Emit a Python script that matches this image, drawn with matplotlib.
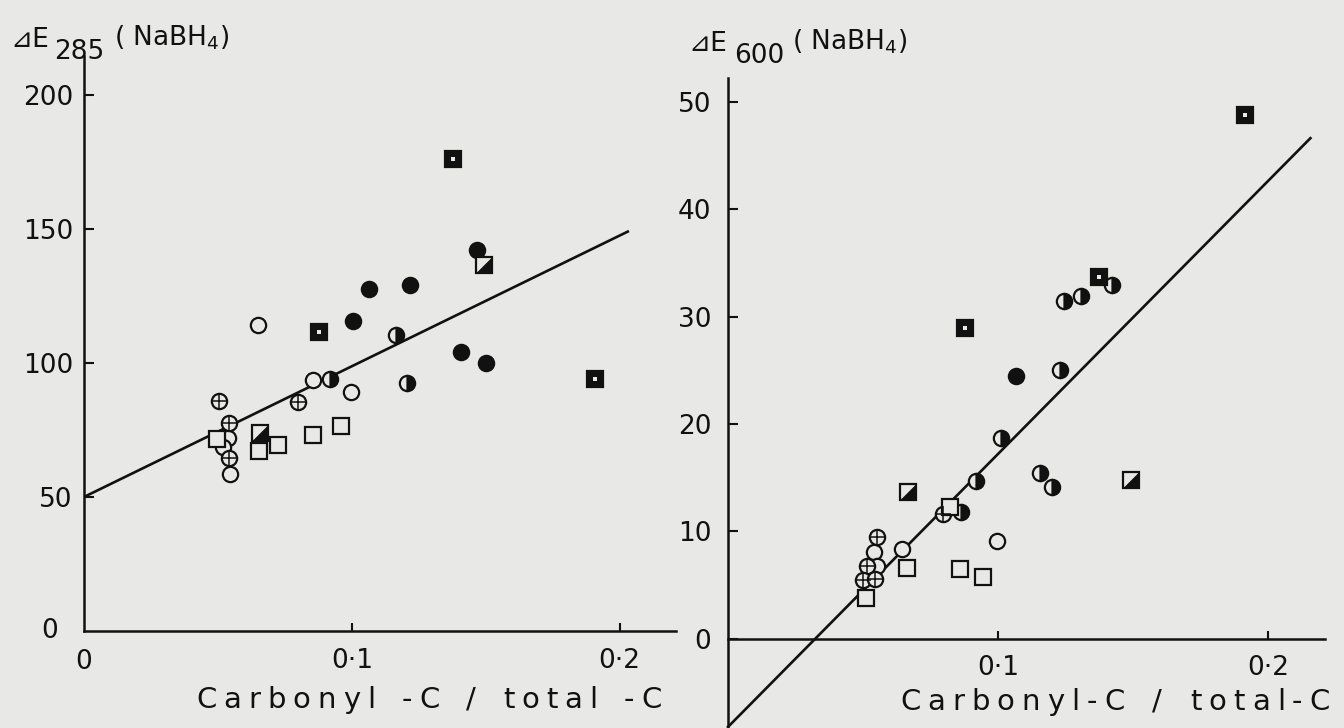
import matplotlib
matplotlib.use("Agg")
import matplotlib.pyplot as plt
from matplotlib.font_manager import FontProperties
from matplotlib.textpath import TextToPath
import numpy as np

# ---------------- data: left panel (ΔE285) ----------------
L_open_c_x = [0.0996, 0.0854, 0.0649, 0.0537, 0.0519, 0.0545]
L_open_c_y = [89.0, 93.6, 114.0, 71.9, 68.5, 58.5]
L_cross_x = [0.0504, 0.0541, 0.0541, 0.0799]
L_cross_y = [85.7, 77.5, 64.4, 85.3]
L_half_c_x = [0.1164, 0.1205, 0.0918]
L_half_c_y = [110.6, 92.4, 94.0]
L_fill_c_x = [0.1466, 0.1063, 0.1216, 0.1004, 0.1407, 0.1500]
L_fill_c_y = [142.3, 127.4, 129.2, 115.8, 103.9, 99.8]
L_open_s_x = [0.0496, 0.0653, 0.0724, 0.0854, 0.0959]
L_open_s_y = [71.5, 67.0, 69.3, 73.0, 76.4]
L_half_s_x = [0.1493, 0.0657]
L_half_s_y = [136.7, 73.7]
L_box_s_x = [0.1377, 0.0877, 0.1907]
L_box_s_y = [176.2, 111.7, 93.9]
L_line_x = [0.0, 0.203]
L_line_y = [50.0, 149.0]
L_yticks = [50, 100, 150, 200]
L_xticks = [0.1, 0.2]
L_xticklabels = ["0·1", "0·2"]
L_xlabel = "Carbonyl -C / total -C"

# ---------------- data: right panel (ΔE600) ----------------
R_open_c_x = [0.0996, 0.0644, 0.0541, 0.0552]
R_open_c_y = [9.1, 8.4, 8.1, 6.8]
R_cross_x = [0.0796, 0.0552, 0.0515, 0.0500, 0.0544]
R_cross_y = [11.6, 9.5, 6.8, 5.5, 5.6]
R_half_c_x = [0.1422, 0.1307, 0.1244, 0.1230, 0.1011, 0.0919, 0.1156, 0.1200, 0.0863]
R_half_c_y = [32.9, 31.9, 31.4, 25.0, 18.7, 14.7, 15.4, 14.1, 11.8]
R_fill_c_x = [0.1067]
R_fill_c_y = [24.5]
R_open_s_x = [0.0822, 0.0663, 0.0859, 0.0944, 0.0511]
R_open_s_y = [12.3, 6.6, 6.5, 5.8, 3.8]
R_half_s_x = [0.1493, 0.0667]
R_half_s_y = [14.8, 13.7]
R_box_s_x = [0.1915, 0.1374, 0.0878]
R_box_s_y = [48.8, 33.7, 28.9]
R_line_x = [0.0, 0.2156]
R_line_y = [-8.2, 46.6]
R_yticks = [0, 10, 20, 30, 40, 50]
R_xticks = [0.1, 0.2]
R_xticklabels = ["0·1", "0·2"]
R_xlabel = "Carbonyl-C / total-C"

BG = "#e8e8e6"
INK = "#111111"
MS = 11
MEW = 1.6
FONT = ["DejaVu Sans", "Noto Sans CJK JP"]
plt.rcParams["font.family"] = FONT

fig = plt.figure(figsize=(13.44, 7.28), dpi=100, facecolor=BG)

tri = [(-1, -1), (1, -1), (1, 1), (-1, -1)]


def fx(px):
    return px / 1344


def fy(py):
    return 1 - py / 728


def draw_points(ax, oc, cr, hc, fc, osq, hsq, bsq):
    kw = dict(ls="none", ms=MS, mew=MEW, mec=INK, zorder=3)
    ax.plot(*oc, marker="o", mfc=BG, **kw)
    ax.plot(*cr, marker="o", mfc=BG, **kw)
    ax.plot(*cr, marker="+", ms=MS, mew=1.1, mec=INK, ls="none", zorder=4)
    ax.plot(*hc, marker="o", fillstyle="right", mfc=INK, mfcalt=BG, **kw)
    ax.plot(*fc, marker="o", mfc=INK, **kw)
    ax.plot(*osq, marker="s", mfc=BG, **kw)
    ax.plot(*hsq, marker="s", mfc=BG, **kw)
    ax.plot(*hsq, marker=tri, ms=MS, mfc=INK, mec=INK, mew=0.5, ls="none", zorder=4)
    ax.plot(*bsq, marker="s", mfc=INK, **kw)
    ax.plot(*bsq, marker="s", ms=3.5, mfc=BG, mec=BG, mew=0, ls="none", zorder=4)


# ---------------- left axes ----------------
axL = fig.add_axes([fx(84), fy(631), (676 - 84) / 1344, (631 - 56) / 728])
axL.set_facecolor("none")
axL.set_xlim(0, 0.221)
axL.set_ylim(0, 214.5)
for s in ("top", "right"):
    axL.spines[s].set_visible(False)
for s in ("left", "bottom"):
    axL.spines[s].set_linewidth(1.8)
    axL.spines[s].set_color(INK)
axL.set_yticks(L_yticks)
axL.set_yticklabels([str(v) for v in L_yticks])
axL.set_xticks(L_xticks)
axL.set_xticklabels(L_xticklabels)
axL.tick_params(axis="y", direction="in", length=7, width=1.5, pad=8, labelsize=19, colors=INK)
axL.tick_params(axis="x", direction="in", length=6, width=1.5, pad=12, labelsize=19, colors=INK)
axL.plot(L_line_x, L_line_y, color=INK, lw=1.9, zorder=2)
draw_points(axL, (L_open_c_x, L_open_c_y), (L_cross_x, L_cross_y), (L_half_c_x, L_half_c_y),
            (L_fill_c_x, L_fill_c_y), (L_open_s_x, L_open_s_y), (L_half_s_x, L_half_s_y),
            (L_box_s_x, L_box_s_y))
fig.text(fx(58), fy(631), "0", fontsize=19, ha="right", va="center", color=INK)
fig.text(fx(84), fy(662), "0", fontsize=19, ha="center", va="center", color=INK)

# ---------------- right axes ----------------
axR = fig.add_axes([fx(728), 0.0, (1325 - 728) / 1344, (728 - 78) / 728])
axR.set_facecolor("none")
axR.set_xlim(0, 0.221)
axR.set_ylim(-8.3, 52.2)
for s in ("top", "right"):
    axR.spines[s].set_visible(False)
axR.spines["bottom"].set_position(("data", 0))
for s in ("left", "bottom"):
    axR.spines[s].set_linewidth(1.8)
    axR.spines[s].set_color(INK)
axR.set_yticks(R_yticks)
axR.set_yticklabels([str(v) for v in R_yticks])
axR.set_xticks(R_xticks)
axR.set_xticklabels(R_xticklabels)
axR.tick_params(axis="y", direction="in", length=7, width=1.5, pad=12, labelsize=19, colors=INK)
axR.tick_params(axis="x", direction="in", length=6, width=1.5, pad=12, labelsize=19, colors=INK)
axR.plot(R_line_x, R_line_y, color=INK, lw=1.9, zorder=2, clip_on=False)
draw_points(axR, (R_open_c_x, R_open_c_y), (R_cross_x, R_cross_y), (R_half_c_x, R_half_c_y),
            (R_fill_c_x, R_fill_c_y), (R_open_s_x, R_open_s_y), (R_half_s_x, R_half_s_y),
            (R_box_s_x, R_box_s_y))


# ---------------- axis titles ----------------
def ylabel(x, y, sub, dx_sub, dx_par):
    fig.text(fx(x), fy(y), "⊿E", fontsize=19, ha="left", va="center", color=INK, family=FONT)
    fig.text(fx(x + dx_sub), fy(y + 12), sub, fontsize=19, ha="left", va="center", color=INK)
    fig.text(fx(x + dx_par), fy(y - 2), "( NaBH$_4$)", fontsize=19, ha="left",
             va="center", color=INK)


ylabel(10, 40, "285", 44, 104)
ylabel(688, 44, "600", 46, 104)

t2p = TextToPath()
SIZE = 21
PROP = FontProperties(family="DejaVu Sans", size=SIZE)


def width(t):
    if not t:
        return 0.0
    w, h, d = t2p.get_text_width_height_descent(t, PROP, ismath=False)
    return w * 100.0 / 72.0


def spaced_text(s, x0, x1, y, e=7.0):
    # e: extra gap after each letter; spaces absorb the rest of the span
    n_sp = s.count(" ")
    n_let = sum(1 for c in s[:-1] if c != " ")
    S = (x1 - x0 - width(s) - e * n_let) / max(n_sp, 1)
    for i, ch in enumerate(s):
        if ch == " ":
            continue
        pre = s[:i]
        px = x0 + width(pre) + e * sum(1 for c in pre if c != " ") + S * pre.count(" ")
        fig.text(fx(px), fy(y), ch, fontsize=SIZE, ha="left", va="center", color=INK)


spaced_text(L_xlabel, 196, 662, 700)
spaced_text(R_xlabel, 900, 1330, 702)

fig.savefig("out.png", dpi=100, facecolor=BG)
